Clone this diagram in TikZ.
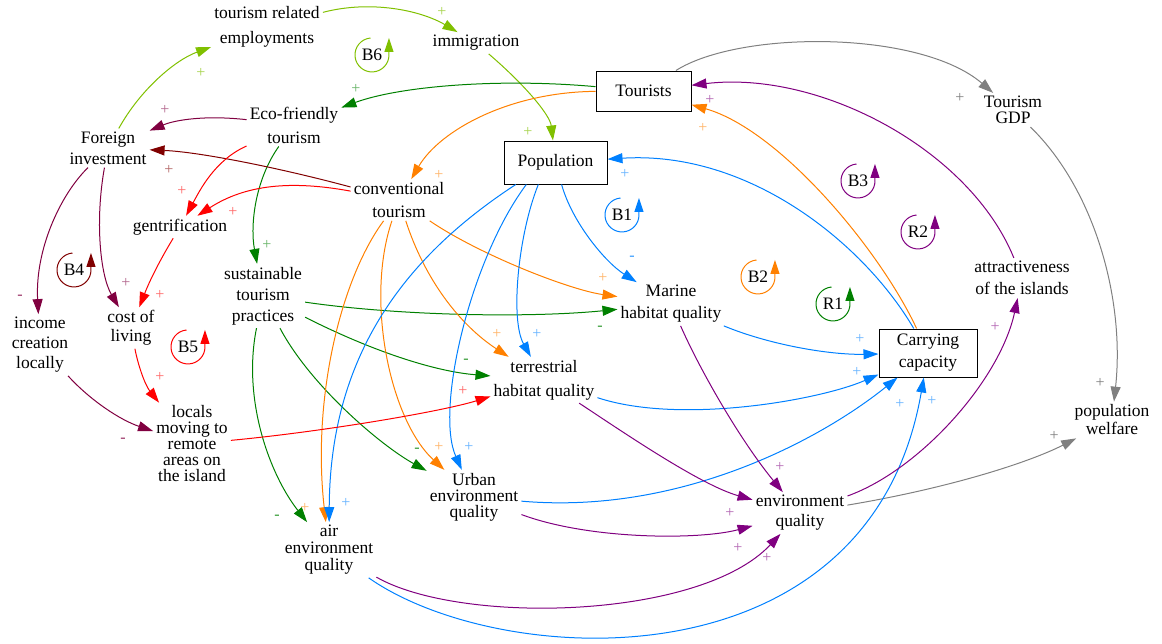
\documentclass[tikz,border=0pt]{standalone}
\usepackage{fontspec}
\setmainfont{Liberation Serif}
\usetikzlibrary{arrows.meta,calc}
\definecolor{cLime}{RGB}{128,192,0}
\definecolor{cGreen}{RGB}{0,128,0}
\definecolor{cOrange}{RGB}{255,128,0}
\definecolor{cBlue}{RGB}{0,128,255}
\definecolor{cPurple}{RGB}{128,0,128}
\definecolor{cMaroon}{RGB}{128,0,64}
\definecolor{cDkRed}{RGB}{128,0,0}
\definecolor{cRed}{RGB}{255,0,0}
\definecolor{cGray}{RGB}{128,128,128}
\newcommand\fbloop[4]{%
  \node[lp] (#1) at #2 {#3};
  \draw[#4, line width=1pt, -{Triangle[length=14pt,width=9pt]}]
    ($(#1.center)+(-1.5,-17)$) arc[start angle=265, end angle=0, radius=17] -- ++(0,-17);
}
\newcommand\sg[4]{\node[sg, text=#3] (#1) at #2 {#4};}
\begin{document}
\begin{tikzpicture}[x=1pt,y=-1pt,
  v/.style={align=center, inner sep=3pt, font=\fontsize{17.5}{#1}\selectfont},
  bx/.style={draw, line width=1pt, align=center, inner sep=2pt, font=\fontsize{17.5}{22}\selectfont},
  lp/.style={inner sep=0pt, font=\fontsize{17.5}{20}\selectfont},
  sg/.style={inner sep=0pt, font=\fontsize{16}{16}\selectfont},
  ed/.style={line width=1pt, -{Triangle[length=15pt,width=10pt]}}]
\useasboundingbox (0,0) rectangle (1162,643);

% ---------- nodes ----------
\node[v=25] (tre) at (267,27) {tourism related\\employments};
\node[v=24] (imm) at (476,43) {immigration};
\node[bx, minimum width=95pt, minimum height=40pt] (tour) at (643.5,91) {Tourists};
\node[bx, minimum width=103pt, minimum height=43pt] (pop) at (555.5,162.5) {Population};
\node[v=16] (gdp) at (1013,110) {Tourism\\GDP};
\node[v=24] (eco) at (294,125) {Eco-friendly\\tourism};
\node[v=21] (fi) at (108,148) {Foreign\\investment};
\node[v=23] (conv) at (399,200) {conventional\\tourism};
\node[v=20] (gent) at (180,227) {gentrification};
\node[v=21] (sust) at (263,296) {sustainable\\tourism\\practices};
\node[v=20] (inc) at (40,345) {income\\creation\\locally};
\node[v=19] (col) at (131,328) {cost of\\living};
\node[v=16] (loc) at (192,444) {locals\\moving to\\remote\\areas on\\the island};
\node[v=22] (mar) at (671,304) {Marine\\habitat quality};
\node[v=24] (ter) at (544,380) {terrestrial\\habitat quality};
\node[v=22] (att) at (1022,278) {attractiveness\\of the islands};
\node[bx, minimum width=98pt, minimum height=48pt] (cap) at (928,353) {Carrying\\capacity};
\node[v=18] (pw) at (1112,420) {population\\welfare};
\node[v=16] (urb) at (474,497) {Urban\\environment\\quality};
\node[v=17] (air) at (329,550) {air\\environment\\quality};
\node[v=20] (env) at (800,513) {environment\\quality};

% ---------- loops ----------
\fbloop{B6}{(372,55)}{B6}{cLime}
\fbloop{B4}{(74,270)}{B4}{cDkRed}
\fbloop{B5}{(188,347)}{B5}{cRed}
\fbloop{B1}{(622,215)}{B1}{cBlue}
\fbloop{B2}{(758,277)}{B2}{cOrange}
\fbloop{B3}{(858,181)}{B3}{cPurple}
\fbloop{R2}{(918,232)}{R2}{cPurple}
\fbloop{R1}{(833,304)}{R1}{cGreen}

% ---------- edges ----------
% lime
\draw[ed, cLime] (tre) .. controls (370,0) and (420,10) .. (imm);
\draw[ed, cLime] (fi) .. controls (140,90) and (175,60) .. (tre);
\draw[ed, cLime] (imm) .. controls (525,85) and (550,115) .. (pop);
% gray
\draw[ed, cGray] (tour) .. controls (740,30) and (920,30) .. (gdp);
\draw[ed, cGray] (gdp) .. controls (1095,190) and (1125,300) .. (pw);
\draw[ed, cGray] (env) .. controls (950,488) and (1030,462) .. (pw);
% dark green
\draw[ed, cGreen] (tour) .. controls (500,78) and (400,86) .. (eco);
\draw[ed, cGreen] (eco) .. controls (255,180) and (250,225) .. (sust);
\draw[ed, cGreen] (sust) .. controls (400,316) and (530,318) .. (mar);
\draw[ed, cGreen] (sust) .. controls (380,355) and (440,372) .. (ter);
\draw[ed, cGreen] (sust) .. controls (310,385) and (380,445) .. (urb);
\draw[ed, cGreen] (sust) .. controls (242,400) and (270,475) .. (air);
% orange
\draw[ed, cOrange] (tour) .. controls (510,92) and (440,130) .. (conv);
\draw[ed, cOrange] (conv) .. controls (480,255) and (570,290) .. (mar);
\draw[ed, cOrange] (conv) .. controls (425,280) and (460,325) .. (ter);
\draw[ed, cOrange] (conv) .. controls (365,300) and (390,420) .. (urb);
\draw[ed, cOrange] (conv) .. controls (340,280) and (312,400) .. (air);
\draw[ed, cOrange] (cap) .. controls (880,250) and (780,130) .. (tour);
% blue
\draw[ed, cBlue] (pop) .. controls (572,222) and (605,262) .. (mar);
\draw[ed, cBlue] (pop.232) .. controls (518,235) and (510,320) .. (ter);
\draw[ed, cBlue] (pop.217) .. controls (470,260) and (435,410) .. (urb);
\draw[ed, cBlue] (pop.209.7) .. controls (400,260) and (330,360) .. (air);
\draw[ed, cBlue] (cap) .. controls (865,245) and (750,150) .. (pop);
\draw[ed, cBlue] (mar) .. controls (770,345) and (830,355) .. (cap);
\draw[ed, cBlue] (ter) .. controls (680,425) and (820,400) .. (cap);
\draw[ed, cBlue] (urb) .. controls (680,515) and (820,440) .. (cap);
\draw[ed, cBlue] (air) .. controls (500,670) and (870,690) .. (cap);
% purple
\draw[ed, cPurple] (mar) .. controls (700,370) and (740,440) .. (env);
\draw[ed, cPurple] (ter) .. controls (620,430) and (700,485) .. (env);
\draw[ed, cPurple] (urb) .. controls (590,540) and (700,540) .. (env);
\draw[ed, cPurple] (air) .. controls (460,625) and (700,620) .. (env);
\draw[ed, cPurple] (env) .. controls (920,470) and (1000,380) .. (att);
\draw[ed, cPurple] (att) .. controls (970,150) and (820,70) .. (tour);
% maroon / dark red
\draw[ed, cMaroon] (eco) .. controls (205,115) and (175,120) .. (fi);
\draw[ed, cDkRed] (conv) .. controls (280,168) and (200,152) .. (fi);
\draw[ed, cMaroon] (fi) .. controls (60,195) and (35,250) .. (inc);
\draw[ed, cMaroon] (fi) .. controls (95,220) and (100,275) .. (col);
\draw[ed, cMaroon] (inc) .. controls (90,400) and (120,420) .. (loc);
% red
\draw[ed, cRed] (eco) .. controls (215,160) and (200,190) .. (gent);
\draw[ed, cRed] (conv) .. controls (290,180) and (245,185) .. (gent);
\draw[ed, cRed] (gent) .. controls (160,260) and (150,280) .. (col);
\draw[ed, cRed] (col) .. controls (138,365) and (145,385) .. (loc);
\draw[ed, cRed] (loc) .. controls (320,432) and (440,412) .. (ter);

% ---------- signs ----------
\sg{s1}{(442,12)}{cLime!70}{+}
\sg{s2}{(201,73)}{cLime!70}{+}
\sg{s3}{(528,132)}{cLime!70}{+}
\sg{s4}{(356,89)}{cGreen!60}{+}
\sg{s5}{(267,245)}{cGreen!60}{+}
\sg{s6}{(600,328)}{cGreen!80}{-}
\sg{s7}{(466,361)}{cGreen!80}{-}
\sg{s8}{(417,450)}{cGreen!80}{-}
\sg{s9}{(277,517)}{cGreen!80}{-}
\sg{s10}{(439,175)}{cOrange!60}{+}
\sg{s11}{(603,278)}{cOrange!60}{+}
\sg{s12}{(497,334)}{cOrange!60}{+}
\sg{s13}{(439,447)}{cOrange!60}{+}
\sg{s14}{(305,508)}{cOrange!60}{+}
\sg{s15}{(703,128)}{cOrange!60}{+}
\sg{s16}{(625,174)}{cBlue!60}{+}
\sg{s17}{(632,258)}{cBlue!80}{-}
\sg{s18}{(537,334)}{cBlue!60}{+}
\sg{s19}{(469,447)}{cBlue!60}{+}
\sg{s20}{(346,503)}{cBlue!60}{+}
\sg{s21}{(860,339)}{cBlue!60}{+}
\sg{s22}{(857,372)}{cBlue!60}{+}
\sg{s23}{(900,404)}{cBlue!60}{+}
\sg{s24}{(932,401)}{cBlue!60}{+}
\sg{s25}{(710,100)}{cPurple!60}{+}
\sg{s26}{(995,327)}{cPurple!60}{+}
\sg{s27}{(780,467)}{cPurple!60}{+}
\sg{s28}{(730,513)}{cPurple!60}{+}
\sg{s29}{(738,548)}{cPurple!60}{+}
\sg{s30}{(767,558)}{cPurple!60}{+}
\sg{s31}{(165,110)}{cMaroon!60}{+}
\sg{s32}{(126,283)}{cMaroon!60}{+}
\sg{s33}{(20,297)}{cMaroon!80}{-}
\sg{s34}{(123,440)}{cMaroon!80}{-}
\sg{s35}{(169,170)}{cDkRed!60}{+}
\sg{s36}{(182,191)}{cRed!60}{+}
\sg{s37}{(233,212)}{cRed!60}{+}
\sg{s38}{(160,295)}{cRed!60}{+}
\sg{s39}{(160,377)}{cRed!60}{+}
\sg{s40}{(463,391)}{cRed!60}{+}
\sg{s41}{(960,98)}{cGray}{+}
\sg{s42}{(1100,383)}{cGray}{+}
\sg{s43}{(1054,436)}{cGray}{+}
\end{tikzpicture}
\end{document}
